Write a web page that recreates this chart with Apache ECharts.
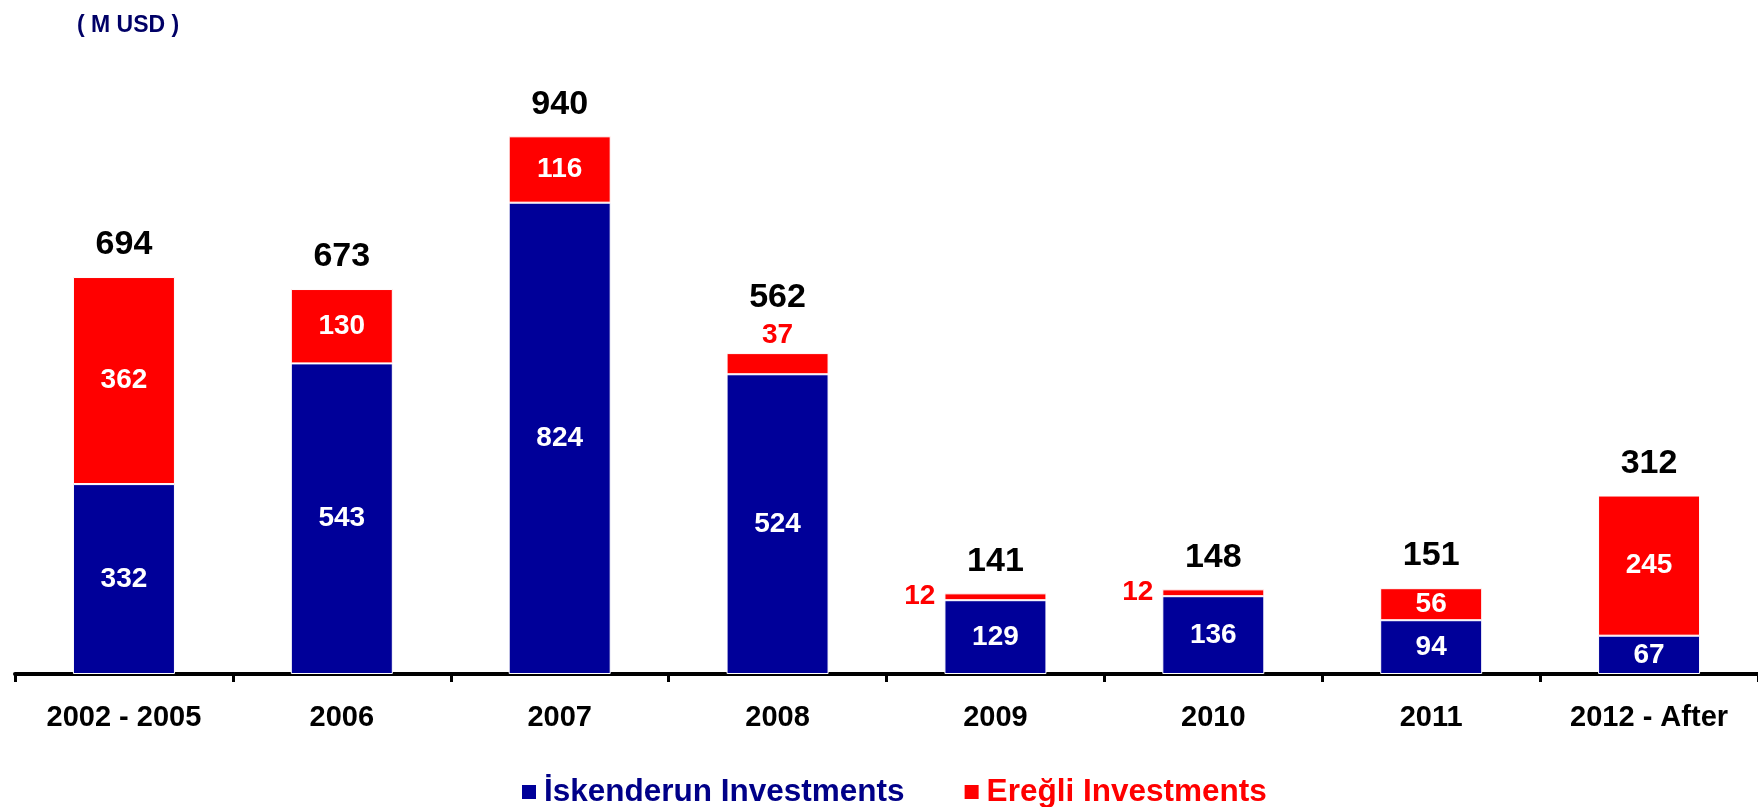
<!DOCTYPE html>
<html>
<head>
<meta charset="utf-8">
<title>Investments</title>
<script src="https://cdn.jsdelivr.net/npm/echarts@6/dist/echarts.min.js"></script>
<style>
  html, body { margin: 0; padding: 0; background: #ffffff; }
  #chart { width: 1758px; height: 807px; }
</style>
</head>
<body>
<div id="chart"></div>
<script>
// Investment amounts per period, in million USD
const categories = ['2002 - 2005', '2006', '2007', '2008', '2009', '2010', '2011', '2012 - After'];
const iskenderun = [332, 543, 824, 524, 129, 136, 94, 67];
const eregli = [362, 130, 116, 37, 12, 12, 56, 245];
const totals = [694, 673, 940, 562, 141, 148, 151, 312];

const FONT = "'Liberation Sans', Arial, Helvetica, sans-serif";
const BLUE = '#000099';
const RED = '#ff0000';

// Small red segments cannot hold their label: very thin ones put it to the left,
// the others put it above the bar.
function eregliLabel(v) {
  if (v < 20) return { position: 'left', distance: 9, color: RED };
  if (v < 45) return { position: 'top', distance: 4, color: RED };
  return { position: 'inside', color: '#ffffff' };
}

const eregliData = eregli.map(v => ({ value: v, label: eregliLabel(v) }));
const totalData = totals.map((v, i) => {
  const above = eregliLabel(eregli[i]).position === 'top';
  return { value: v, label: { distance: above ? 38 : 15 } };
});

const chart = echarts.init(document.getElementById('chart'), null, { renderer: 'canvas' });

chart.setOption({
  animation: false,
  backgroundColor: '#ffffff',
  title: {
    text: '( M USD )',
    left: 72,
    top: 9,
    textStyle: { fontFamily: FONT, fontSize: 23, fontWeight: 'bold', color: '#000066' }
  },
  legend: {
    left: 517,
    top: 771,
    itemWidth: 14,
    itemHeight: 14,
    itemGap: 60,
    icon: 'rect',
    selectedMode: false,
    itemStyle: { borderWidth: 0 },
    textStyle: { fontFamily: FONT, fontSize: 31.5, fontWeight: 'bold', padding: [0, 0, 0, 3] },
    data: [
      { name: 'İskenderun Investments', textStyle: { color: '#000088' } },
      { name: 'Ereğli Investments', textStyle: { color: RED } }
    ]
  },
  grid: { left: 15, right: 0, top: 102, bottom: 133 },
  xAxis: {
    type: 'category',
    data: categories,
    axisLine: { show: true, lineStyle: { color: '#000000', width: 4 } },
    axisTick: { show: true, length: 8, lineStyle: { color: '#000000', width: 3 } },
    axisLabel: {
      margin: 29,
      fontFamily: FONT,
      fontSize: 29,
      fontWeight: 'bold',
      color: '#000000'
    }
  },
  yAxis: {
    type: 'value',
    min: 0,
    max: 1000,
    show: false,
    splitLine: { show: false }
  },
  series: [
    {
      name: 'İskenderun Investments',
      type: 'bar',
      stack: 'total',
      barWidth: 102,
      data: iskenderun,
      itemStyle: { color: BLUE, borderColor: '#ffffff', borderWidth: 1 },
      label: {
        show: true,
        position: 'inside',
        color: '#ffffff',
        fontFamily: FONT,
        fontSize: 28,
        fontWeight: 'bold'
      }
    },
    {
      name: 'Ereğli Investments',
      type: 'bar',
      stack: 'total',
      barWidth: 102,
      data: eregliData,
      itemStyle: { color: RED, borderColor: '#ffffff', borderWidth: 1 },
      label: {
        show: true,
        fontFamily: FONT,
        fontSize: 28,
        fontWeight: 'bold'
      }
    },
    {
      name: 'Total',
      type: 'scatter',
      data: totalData,
      symbolSize: 0,
      itemStyle: { color: 'rgba(0,0,0,0)', opacity: 1 },
      silent: true,
      label: {
        show: true,
        position: 'top',
        color: '#000000',
        fontFamily: FONT,
        fontSize: 34,
        fontWeight: 'bold'
      }
    }
  ]
});
</script>
</body>
</html>
